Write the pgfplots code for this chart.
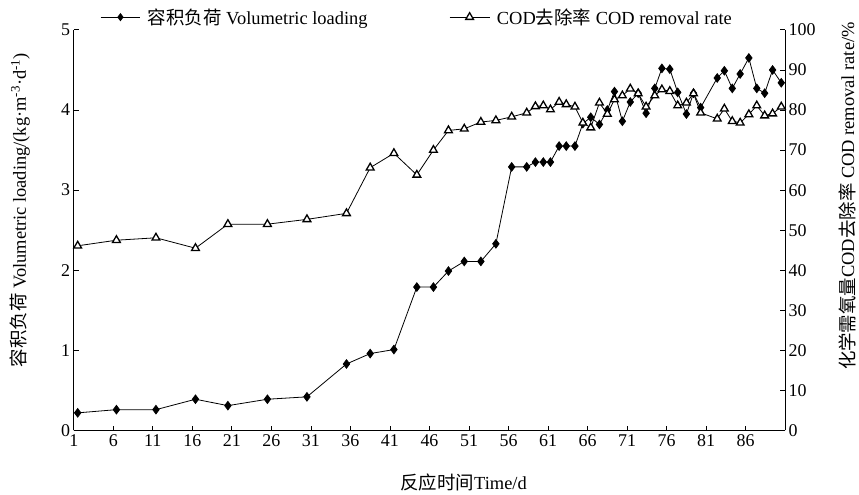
\documentclass[border=0pt]{standalone}
\usepackage{pgfplots}
\pgfplotsset{compat=1.18}
\usepackage{fontspec}
\setmainfont{Liberation Serif}
\newfontfamily\cjk{Noto Sans CJK SC}
\pgfplotstableread{
day val
1.5 0.22
6.4 0.26
11.4 0.26
16.4 0.39
20.5 0.31
25.5 0.39
30.5 0.42
35.5 0.83
38.5 0.96
41.5 1.01
44.4 1.79
46.5 1.79
48.4 1.99
50.4 2.11
52.5 2.11
54.4 2.33
56.4 3.29
58.3 3.29
59.4 3.35
60.4 3.35
61.3 3.35
62.4 3.55
63.3 3.55
64.4 3.55
65.4 3.83
66.4 3.91
67.5 3.82
68.5 4.00
69.4 4.23
70.4 3.86
71.4 4.10
72.4 4.21
73.4 3.96
74.5 4.27
75.4 4.52
76.4 4.51
77.4 4.22
78.5 3.95
79.4 4.21
80.3 4.03
82.4 4.40
83.3 4.49
84.3 4.27
85.3 4.45
86.4 4.65
87.4 4.27
88.4 4.21
89.4 4.50
90.5 4.34
}\loading
\pgfplotstableread{
day val
1.5 46.1
6.4 47.5
11.4 48.1
16.4 45.5
20.5 51.5
25.5 51.5
30.5 52.7
35.5 54.2
38.5 65.6
41.5 69.2
44.4 63.8
46.5 70.0
48.4 74.9
50.4 75.3
52.5 77.0
54.4 77.4
56.4 78.3
58.3 79.3
59.4 80.9
60.4 81.1
61.3 80.1
62.4 82.0
63.3 81.4
64.4 80.8
65.4 76.8
66.4 75.6
67.5 81.8
68.5 79.0
69.4 82.6
70.4 83.6
71.4 85.3
72.4 84.1
73.4 80.8
74.5 83.6
75.4 85.1
76.4 84.7
77.4 81.1
78.5 81.8
79.4 84.1
80.3 79.3
82.4 77.8
83.3 80.3
84.3 77.2
85.3 76.8
86.4 78.9
87.4 81.1
88.4 78.6
89.4 79.1
90.5 80.8
}\removal
\begin{document}
\begin{tikzpicture}
\pgfplotsset{
  every axis/.append style={
    scale only axis, width=714pt, height=402pt,
    xmin=1, xmax=91,
    tick align=inside,
    font=\fontsize{18}{21}\selectfont,
    /pgf/number format/assume math mode=true,
    axis line style={-, line width=1pt, black},
    major tick length=5pt,
    tick style={line width=0.8pt, black},
    label style={font=\fontsize{18.5}{22}\selectfont},
  },
}
\begin{axis}[
  axis x line*=bottom, axis y line*=left,
  x axis line style={-}, y axis line style={-},
  ymin=0, ymax=5, ytick={0,1,2,3,4,5},
  xtick={1,6,...,86},
  xticklabel style={yshift=-1pt},
  xlabel={{\cjk 反应时间}Time/d},
  xlabel style={at={(axis description cs:0.548,-0.13)}, anchor=center},
  ylabel={{\cjk 容积负荷} Volumetric loading/(kg·m\textsuperscript{-3}·d\textsuperscript{-1})},
  ylabel style={at={(axis description cs:-0.0756,0.55)}, anchor=center},
]
\addplot[black, line width=0.8pt, mark=diamond*, mark size=4.3pt, mark options={fill=black}] table[x=day, y=val] {\loading};
\end{axis}
\begin{axis}[
  axis x line=none, axis y line*=right,
  y axis line style={-},
  ymin=0, ymax=100, ytick={0,10,...,100},
  ylabel={{\cjk 化学需氧量}COD{\cjk 去除率} COD removal rate/\%},
  ylabel style={at={(axis description cs:1.087,0.585)}, anchor=center},
  legend style={at={(axis description cs:0.4825,1.0)}, anchor=south, yshift=0pt,
    draw=none, fill=none, legend columns=2,
    /tikz/every even column/.append style={column sep=80pt},
    /tikz/every odd column/.append style={column sep=5pt},
    font=\fontsize{18.5}{22}\selectfont},
  legend image code/.code={\draw[mark repeat=2, mark phase=2] plot coordinates {(0pt,0pt) (20pt,0pt) (40pt,0pt)};},
]
\addlegendimage{black, line width=0.8pt, mark=diamond*, mark size=3.5pt, mark options={fill=black}}
\addlegendentry{{\cjk 容积负荷} Volumetric loading}
\addplot[black, line width=0.8pt, mark=triangle*, mark size=4.5pt, mark options={fill=white, line width=1.3pt}] table[x=day, y=val] {\removal};
\addlegendentry{COD{\cjk 去除率} COD removal rate}
\end{axis}
\path (-74pt,-62pt) rectangle (785pt,432pt);
\end{tikzpicture}
\end{document}
